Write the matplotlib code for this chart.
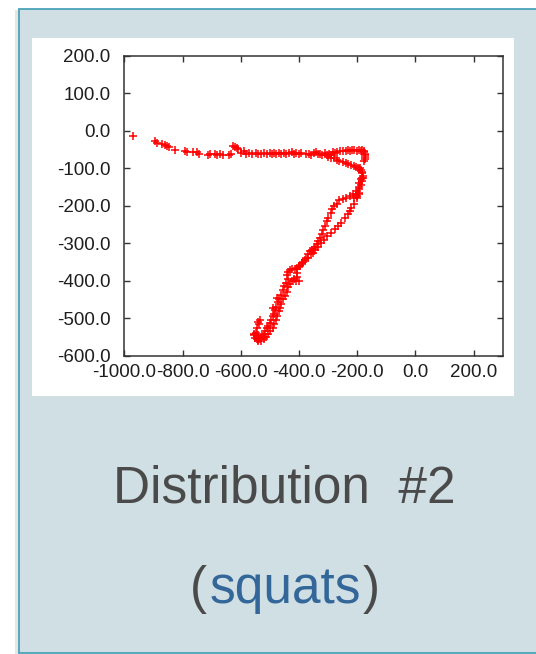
import matplotlib
matplotlib.use("Agg")
import matplotlib.pyplot as plt
from matplotlib.patches import Rectangle

# ---- data ----
top_x = [-970, -893, -888, -870, -860, -852, -848, -825, -790, -785, -765, -750, -742, -712, -705,
         -690, -680, -670, -660, -640, -632, -625, -618, -612, -608, -600, -590, -582, -570, -560,
         -548, -540, -530, -520, -510, -500, -492, -485, -478, -470, -460, -452, -445, -435, -425,
         -418, -410, -400, -392, -375, -365, -357, -350, -342, -335, -328, -320, -312, -305, -298,
         -290, -283, -275, -268, -260, -250, -240, -232, -225, -218, -210, -202, -195, -188, -182,
         -178, -175, -173, -172, -173, -174, -176]
top_y = [-15, -28, -33, -35, -37, -41, -44, -52, -53, -57, -58, -58, -61, -66, -63,
         -62, -65, -62, -64, -66, -62, -40, -43, -45, -48, -60, -55, -63, -60, -62,
         -60, -63, -61, -60, -63, -60, -62, -59, -63, -60, -62, -60, -63, -60, -58,
         -62, -60, -63, -60, -63, -61, -64, -60, -58, -63, -61, -64, -60, -66, -62,
         -65, -58, -60, -56, -55, -55, -53, -52, -53, -52, -52, -54, -52, -53, -52,
         -55, -58, -62, -66, -70, -75, -80]

loop_x = [-300, -290, -280, -270, -262, -250, -240, -230, -220, -212, -205, -198, -192, -188, -185,
          -190, -185, -180, -183, -188, -185, -192, -188, -195, -192, -200, -195, -205, -215, -200, -210]
loop_y = [-70, -72, -74, -78, -80, -84, -86, -88, -91, -93, -96, -100, -103, -106, -110,
          -100, -112, -120, -125, -130, -135, -140, -145, -150, -155, -160, -165, -168, -170, -175, -180]

left_x = [-225, -240, -250, -262, -270, -280, -285, -290, -300, -305, -310, -318, -322, -328, -333,
          -338, -345, -350, -355, -362, -368, -375, -385, -390, -398, -405, -415, -425, -432, -438,
          -440, -438, -445, -450, -455, -462, -468, -472, -478, -482, -485, -490, -495, -500, -505,
          -510, -515, -520, -528, -535, -540, -545, -550, -553, -548, -542, -538, -554, -539, -533,
          -545, -536]
left_y = [-175, -180, -182, -185, -195, -200, -210, -220, -232, -240, -255, -265, -275, -285, -293,
          -302, -310, -315, -318, -322, -330, -340, -350, -355, -360, -365, -368, -370, -372, -378,
          -385, -395, -405, -415, -425, -438, -448, -458, -470, -478, -488, -495, -505, -512, -520,
          -527, -535, -542, -548, -555, -558, -556, -552, -546, -540, -545, -552, -541, -509, -504,
          -525, -515]

right_x = [-180, -195, -200, -210, -220, -225, -232, -242, -255, -265, -275, -290, -302, -315, -325,
           -335, -345, -352, -360, -370, -380, -390, -400, -405, -408, -405, -400, -410, -418, -425,
           -430, -438, -442, -448, -455, -460, -465, -470, -475, -480, -485, -490, -498, -505, -512,
           -520, -530, -540, -488, -476]
right_y = [-125, -170, -180, -195, -205, -215, -222, -232, -245, -255, -262, -272, -282, -292, -300,
           -310, -318, -325, -330, -340, -345, -352, -360, -370, -380, -390, -400, -402, -395, -400,
           -410, -418, -430, -440, -450, -462, -472, -482, -495, -505, -515, -525, -535, -542, -550,
           -555, -560, -562, -474, -447]

x_ticks = [-1000, -800, -600, -400, -200, 0, 200]
y_ticks = [-600, -500, -400, -300, -200, -100, 0, 100, 200]
title_text = "Distribution  #2"
sub_parts = [("(", "#4a4a4a"), ("squats", "#336699"), (")", "#4a4a4a")]

# ---- figure ----
W, H = 536, 654
fig = plt.figure(figsize=(W / 100, H / 100), dpi=100)
fig.patch.set_facecolor("white")

def box(x0, y0, x1, y1, **kw):
    fig.patches.append(Rectangle((x0 / W, 1 - y1 / H), (x1 - x0) / W, (y1 - y0) / H,
                                 transform=fig.transFigure, figure=fig, **kw))

# shadow + panel
box(15, 10, 19, 654, facecolor="#e6e6e6", edgecolor="none", zorder=0)
box(18.5, 8.5, 545, 652.5, facecolor="#d0dfe4", edgecolor="#4aa3b8", linewidth=1.3, zorder=1)
# white image region
box(32, 38, 514, 396, facecolor="white", edgecolor="none", zorder=2)

ax_l, ax_r, ax_t, ax_b = 124.3, 502.7, 55.7, 355.7
ax = fig.add_axes([ax_l / W, 1 - ax_b / H, (ax_r - ax_l) / W, (ax_b - ax_t) / H], zorder=3)
ax.set_facecolor("white")

for xs, ys in [(top_x, top_y), (loop_x, loop_y), (left_x, left_y), (right_x, right_y)]:
    ax.plot(xs, ys, linestyle="none", marker="+", color="red", markersize=5.5, markeredgewidth=1.1)

ax.set_xlim(-1000, 300)
ax.set_ylim(-600, 200)
ax.set_xticks(x_ticks)
ax.set_yticks(y_ticks)
ax.set_xticklabels([f"{v:.1f}" for v in x_ticks])
ax.set_yticklabels([f"{v:.1f}" for v in y_ticks])
ax.tick_params(direction="in", length=4, width=1, top=True, right=True, colors="#333333",
               labelsize=13.5, labelcolor="#1e1e1e", labelfontfamily="Liberation Sans")
ax.tick_params(axis="y", pad=10)
ax.tick_params(axis="x", pad=6)
for s in ax.spines.values():
    s.set_linewidth(1.1)
    s.set_color("#333333")

# captions
fig.text(284 / W, 1 - 489 / H, title_text, ha="center", va="center", fontsize=37,
         color="#4a4a4a", family="Liberation Sans", zorder=4)

# subtitle with mixed colours, laid out consecutively and centred
renderer = fig.canvas.get_renderer()
texts = []
for s, c in sub_parts:
    texts.append(fig.text(0, 1 - 603 / H, s, ha="left", va="baseline", fontsize=37,
                          color=c, family="Liberation Sans", zorder=4))
widths = [t.get_window_extent(renderer).width for t in texts]
gap = 2
total = sum(widths) + gap * (len(widths) - 1)
x = 285 - total / 2
for t, w in zip(texts, widths):
    t.set_x(x / W)
    x += w + gap

fig.savefig("out.png", dpi=100, facecolor=fig.get_facecolor())
